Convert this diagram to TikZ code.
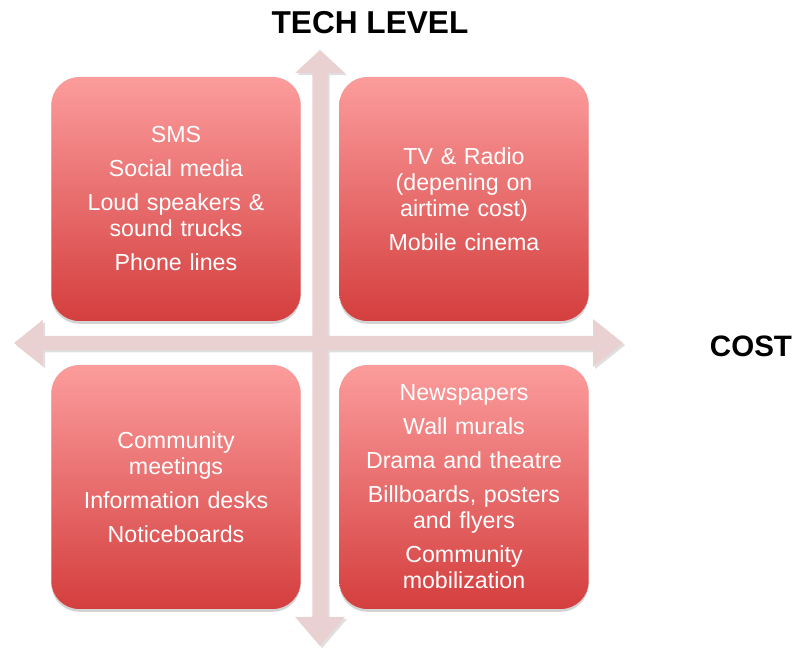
\documentclass[tikz,border=0pt]{standalone}
\usepackage{fontspec}
\setmainfont{Liberation Sans}
\usepackage{tikz}
\usetikzlibrary{positioning,shadows}

\definecolor{boxtop}{RGB}{252,156,156}
\definecolor{boxbottom}{RGB}{212,62,62}
\definecolor{axisfill}{RGB}{233,209,209}

\tikzset{
	quadbox/.style={rectangle, rounded corners=0.7cm, top color=boxtop, bottom color=boxbottom, draw=none,
		minimum width=6.15cm, minimum height=6.1cm, text width=6cm, align=center, text=white,
		font=\fontsize{16.5}{18.5}\selectfont,
		drop shadow={opacity=0.35, shadow xshift=0pt, shadow yshift=-2pt}},
	axislabel/.style={font=\fontsize{21}{25}\selectfont\bfseries, text=black},
	axisarrow/.style={fill=axisfill, draw=none,
		drop shadow={opacity=0.25, shadow xshift=1.5pt, shadow yshift=-1.5pt}}
}

\begin{document}
\begin{tikzpicture}[scale=1.0]
		\useasboundingbox (-8,-7.625) rectangle (12.025,8.575);
		
		% axes (one cross shape)
		\fill[axisarrow] (0.19,0.18) -- (0.19,6.75) -- (0.62,6.75) -- (0,7.325) -- (-0.62,6.75) -- (-0.19,6.75)
			-- (-0.19,0.18) -- (-6.925,0.18) -- (-6.925,0.58) -- (-7.65,0) -- (-6.925,-0.58) -- (-6.925,-0.18)
			-- (-0.19,-0.18) -- (-0.19,-6.85) -- (-0.62,-6.85) -- (0,-7.575) -- (0.62,-6.85) -- (0.19,-6.85)
			-- (0.19,-0.18) -- (6.825,-0.18) -- (6.825,-0.6) -- (7.575,0) -- (6.825,0.6) -- (6.825,0.18) -- cycle;
		
		\node[quadbox] (box1) at (-3.6,3.6) {SMS\\[0.2cm] Social media\\[0.2cm] Loud speakers \&\\ sound trucks\\[0.2cm] Phone lines};
		\node[quadbox] (box2) at (3.6,3.6) {TV \& Radio\\ (depening on\\ airtime cost)\\[0.2cm] Mobile cinema};
		\node[quadbox] (box3) at (-3.6,-3.6) {Community\\ meetings\\[0.2cm] Information desks\\[0.2cm] Noticeboards};
		\node[quadbox] (box4) at (3.6,-3.6) {Newspapers\\[0.2cm] Wall murals\\[0.2cm] Drama and theatre\\[0.2cm] Billboards, posters\\ and flyers\\[0.2cm] Community\\ mobilization};
		
		\node[axislabel, font=\fontsize{22.5}{26}\selectfont\bfseries] (tech) at (1.25,8.0) {TECH LEVEL};
		\node[axislabel] (cost) at (10.775,-0.075) {COST};
	\end{tikzpicture}
\end{document}
